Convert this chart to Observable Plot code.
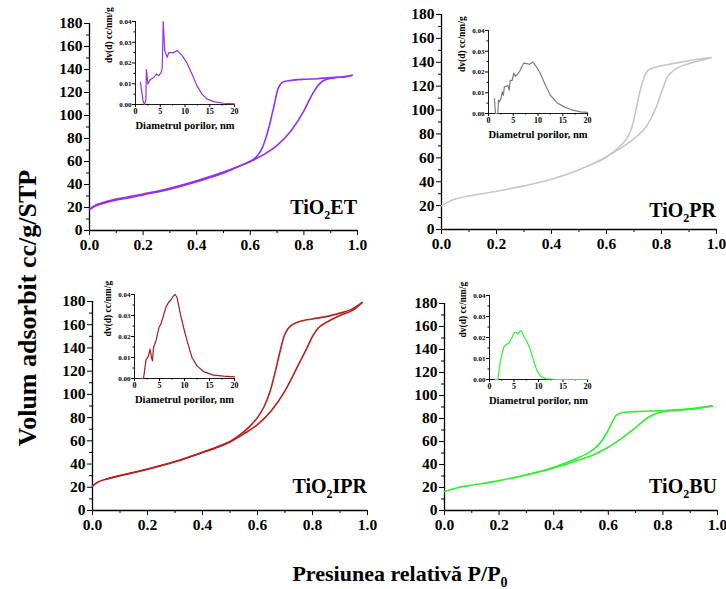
<!DOCTYPE html>
<html>
<head>
<meta charset="utf-8">
<script src="https://cdn.jsdelivr.net/npm/d3@7"></script>
<script src="https://cdn.jsdelivr.net/npm/@observablehq/plot@0.6"></script>
<style>
  body { margin: 0; background: #fff; }
  #page { position: relative; width: 726px; height: 589px; overflow: hidden;
          font-family: "Liberation Serif", "Times New Roman", serif; font-weight: bold; color: #000; }
  #page svg { position: absolute; overflow: visible; }
  .ytitle { position: absolute; left: 28px; top: 308px; transform: translate(-50%, -50%) rotate(-90deg);
            white-space: nowrap; font-size: 26px; }
  .xtitle { position: absolute; left: 400px; top: 576px; transform: translate(-50%, -50%);
            white-space: nowrap; font-size: 22px; }
  .xtitle sub { font-size: 14px; }
</style>
</head>
<body>
<div id="page">
  <div class="ytitle">Volum adsorbit cc/g/STP</div>
  <div class="xtitle">Presiunea relativă P/P<sub>0</sub></div>
</div>
<script>
// Nitrogen isotherms: [P/P0, adsorbed volume cc/g STP]
const etAdsorption = [[0,18],[0.02,21],[0.05,23.5],[0.1,26.5],[0.15,28.5],[0.2,31],[0.3,36],[0.4,42.5],[0.5,50],[0.55,55],[0.6,60],[0.65,66],[0.7,74],[0.75,86],[0.8,104],[0.83,118],[0.86,128],[0.88,131],[0.92,133],[0.96,134],[0.98,135]];
const etDesorption = [[0.98,135],[0.95,133.5],[0.9,133],[0.85,132],[0.8,131.5],[0.75,130.5],[0.72,129],[0.705,124],[0.69,110],[0.675,95],[0.66,82],[0.645,72],[0.63,66],[0.61,61.5],[0.58,58],[0.5,50.8],[0.4,43.3],[0.3,36.8],[0.2,31.8],[0.1,27.3],[0.05,24.3],[0.02,21.8],[0,18.3]];

const prAdsorption = [[0,20],[0.02,22.5],[0.05,25.5],[0.1,28],[0.2,32],[0.3,36.5],[0.4,42],[0.5,50],[0.55,55],[0.6,61],[0.65,68],[0.7,76],[0.75,88],[0.78,102],[0.8,115],[0.82,127],[0.85,134],[0.9,139],[0.95,142],[0.98,144]];
const prDesorption = [[0.98,144],[0.93,142.5],[0.88,140.5],[0.82,138],[0.78,136],[0.75,133],[0.735,126],[0.72,114],[0.705,98],[0.69,84],[0.67,75],[0.64,68],[0.61,62.3],[0.58,58],[0.55,55]];

const iprAdsorption = [[0,21],[0.02,24.5],[0.05,27],[0.1,30],[0.2,35.5],[0.3,42],[0.4,50],[0.5,59],[0.55,66],[0.6,74],[0.65,86],[0.7,103],[0.75,126],[0.78,140],[0.8,150],[0.82,157],[0.85,162],[0.9,168],[0.95,173],[0.98,179]];
const iprDesorption = [[0.98,179],[0.94,173],[0.9,170],[0.85,167],[0.8,165],[0.75,162.5],[0.72,159],[0.7,152],[0.685,140],[0.665,120],[0.645,102],[0.625,90],[0.6,80],[0.57,72],[0.54,66],[0.5,59.5],[0.45,54.5],[0.4,50.2],[0.3,42.2],[0.2,35.7],[0.1,30.2],[0.05,27.2]];

const buAdsorption = [[0,16.5],[0.02,18],[0.05,20],[0.1,22],[0.2,26],[0.3,31],[0.4,37],[0.45,40.5],[0.5,44.5],[0.55,49],[0.6,55],[0.65,63],[0.7,72],[0.74,80],[0.77,84],[0.8,86],[0.85,87],[0.9,88],[0.95,89.5],[0.98,91]];
const buDesorption = [[0.98,91],[0.9,88.5],[0.8,87],[0.7,86],[0.65,85],[0.63,83],[0.615,77],[0.6,70],[0.58,62],[0.56,56],[0.53,50.5],[0.5,47],[0.45,42],[0.4,37.5],[0.35,34],[0.3,31.2]];

// Pore size distributions: [diameter nm, dv(d) cc/nm/g]
const etPores = [[1.0,0.0107],[1.5,0.002],[1.8,0],[2.1,0.002],[2.2,0.0168],[2.5,0.0099],[3.0,0.012],[3.7,0.013],[4.2,0.0147],[4.7,0.0139],[5.2,0.0155],[5.4,0.018],[5.6,0.04],[5.9,0.026],[6.4,0.0227],[6.7,0.025],[7.7,0.025],[8.4,0.026],[9.4,0.0237],[10.4,0.02],[11.4,0.0147],[12.4,0.0091],[13.4,0.0051],[14.4,0.0027],[15.8,0.0014],[17.8,0.0006],[20,0.0003]];
const prPores = [[1.2,0.0072],[1.4,0],[1.9,0],[2.0,0.0064],[2.2,0.0056],[2.5,0.0072],[2.8,0.0104],[3.0,0.0088],[3.2,0.0128],[3.6,0.0131],[3.9,0.0136],[4.2,0.0112],[4.4,0.016],[4.8,0.016],[5.1,0.0195],[5.4,0.0179],[5.9,0.0189],[6.4,0.0208],[7.1,0.0243],[7.8,0.024],[8.3,0.0237],[9.0,0.0248],[9.7,0.0224],[10.5,0.0192],[11.5,0.0136],[12.5,0.0088],[13.9,0.0051],[15.3,0.0032],[16.6,0.0019],[18.6,0.0008],[20,0.0005]];
const iprPores = [[1.1,0],[1.8,0],[2.1,0.0053],[2.3,0.0089],[2.8,0.0108],[3.1,0.014],[3.4,0.01],[3.6,0.0084],[3.8,0.0148],[4.3,0.018],[4.9,0.0244],[5.3,0.026],[5.8,0.03],[6.3,0.034],[6.8,0.0362],[7.3,0.0375],[7.7,0.039],[8.1,0.04],[8.5,0.0387],[9.1,0.0315],[9.8,0.0244],[10.5,0.018],[11.5,0.01],[12.5,0.006],[13.8,0.0033],[15.8,0.0016],[17.8,0.0011],[20,0.0008]];
const buPores = [[1.2,0],[1.7,0],[2.0,0.0057],[2.3,0.0097],[2.9,0.0153],[3.4,0.0166],[3.9,0.0172],[4.6,0.02],[5.0,0.0222],[5.4,0.0225],[5.8,0.0217],[6.3,0.0233],[6.6,0.0228],[7.1,0.0201],[7.6,0.0182],[8.3,0.0145],[9.0,0.0089],[9.7,0.0041],[10.5,0.0014],[11.7,0.0003],[13.7,0],[20,0]];

// Axis ticks
const pTicks = [0, 0.2, 0.4, 0.6, 0.8, 1.0];
const pMinor = [0.1, 0.3, 0.5, 0.7, 0.9];
const vTicks = [0, 20, 40, 60, 80, 100, 120, 140, 160, 180];
const vMinor = [10, 30, 50, 70, 90, 110, 130, 150, 170];
const dTicks = [0, 5, 10, 15, 20];
const dMinor = [2.5, 7.5, 12.5, 17.5];
const dvTicks = [0, 0.01, 0.02, 0.03, 0.04];
const dvMinor = [0.005, 0.015, 0.025, 0.035];

const page = document.getElementById("page");
const FONT = "Liberation Serif";

function place(svg, left, top) {
  svg.style.left = left + "px";
  svg.style.top = top + "px";
  page.appendChild(svg);
}

function isotherm({x0, x1, yTop, yBot, ads, des, color, sample, labelY}) {
  const mL = 52, mR = 16, mT = 12, mB = 34;
  const plot = Plot.plot({
    width: (x1 - x0) + mL + mR,
    height: (yBot - yTop) + mT + mB,
    marginLeft: mL, marginRight: mR, marginTop: mT, marginBottom: mB,
    x: {domain: [0, 1]},
    y: {domain: [0, 180]},
    style: {fontFamily: FONT, fontWeight: "bold", background: "transparent", color: "#000", overflow: "visible"},
    marks: [
      Plot.axisY({ticks: vTicks, tickSize: 5, tickPadding: 2, fontSize: 15.5, fontWeight: "bold", label: null}),
      Plot.axisY({ticks: vMinor, tickSize: 3, tickFormat: () => "", label: null}),
      Plot.axisX({ticks: pTicks, tickSize: 5, tickPadding: 3, fontSize: 15.5, fontWeight: "bold", tickFormat: d => d.toFixed(1), label: null}),
      Plot.axisX({ticks: pMinor, tickSize: 3, tickFormat: () => "", label: null}),
      Plot.ruleX([0], {strokeWidth: 1.3}),
      Plot.ruleY([0], {strokeWidth: 1.3}),
      Plot.line(ads, {x: d => d[0], y: d => d[1], stroke: color, strokeWidth: 1.6, curve: "monotone-x"}),
      Plot.line(des, {x: d => d[0], y: d => d[1], stroke: color, strokeWidth: 1.6, curve: "catmull-rom"})
    ]
  });
  // Sample name with subscripted oxide formula
  const x = plot.scale("x"), y = plot.scale("y");
  const t = d3.select(plot).append("text")
    .attr("x", x.apply(1.0)).attr("y", y.apply(labelY))
    .attr("text-anchor", "end")
    .attr("font-family", FONT).attr("font-weight", "bold").attr("font-size", 20);
  t.append("tspan").text("TiO");
  t.append("tspan").attr("font-size", 12).attr("dy", 5).text("2");
  t.append("tspan").attr("dy", -5).text(sample);
  place(plot, x0 - mL, yTop - mT);
}

function poreInset({x0, x1, yTop, yBot, pores, color}) {
  const mL = 36, mR = 8, mT = 6, mB = 30;
  const plot = Plot.plot({
    width: (x1 - x0) + mL + mR,
    height: (yBot - yTop) + mT + mB,
    marginLeft: mL, marginRight: mR, marginTop: mT, marginBottom: mB,
    x: {domain: [0, 20]},
    y: {domain: [0, 0.04]},
    style: {fontFamily: FONT, fontWeight: "bold", background: "transparent", color: "#000", overflow: "visible"},
    marks: [
      Plot.axisY({ticks: dvTicks, tickSize: 3, tickPadding: 1, fontSize: 7, fontWeight: "bold", tickFormat: d => d.toFixed(2), label: null}),
      Plot.axisY({ticks: dvMinor, tickSize: 1.5, tickFormat: () => "", label: null}),
      Plot.axisX({ticks: dTicks, tickSize: 3, tickPadding: 1, fontSize: 8, fontWeight: "bold", label: null}),
      Plot.axisX({ticks: dMinor, tickSize: 1.5, tickFormat: () => "", label: null}),
      Plot.ruleX([0], {strokeWidth: 0.9}),
      Plot.ruleY([0], {strokeWidth: 0.9}),
      Plot.text(["Diametrul porilor, nm"], {frameAnchor: "bottom", dy: 24, fontSize: 10.5, fontWeight: "bold"}),
      Plot.text(["dv(d) cc/nm/g"], {frameAnchor: "left", dx: -27, rotate: -90, fontSize: 9.5, fontWeight: "bold"}),
      Plot.line(pores, {x: d => d[0], y: d => d[1], stroke: color, strokeWidth: 1.2})
    ]
  });
  place(plot, x0 - mL, yTop - mT);
}

isotherm({x0: 89, x1: 357, yTop: 23, yBot: 230, ads: etAdsorption, des: etDesorption, color: "#9230ee", sample: "ET", labelY: 14});
isotherm({x0: 441, x1: 716, yTop: 14, yBot: 229, ads: prAdsorption, des: prDesorption, color: "#c6c6c6", sample: "PR", labelY: 10});
isotherm({x0: 92, x1: 367, yTop: 301, yBot: 510, ads: iprAdsorption, des: iprDesorption, color: "#b3201e", sample: "IPR", labelY: 15});
isotherm({x0: 444, x1: 717, yTop: 303, yBot: 510, ads: buAdsorption, des: buDesorption, color: "#30ee30", sample: "BU", labelY: 15});

poreInset({x0: 135, x1: 234, yTop: 21, yBot: 104, pores: etPores, color: "#9230ee"});
poreInset({x0: 488, x1: 587, yTop: 30, yBot: 113, pores: prPores, color: "#7c7c7c"});
poreInset({x0: 134, x1: 234, yTop: 294, yBot: 378, pores: iprPores, color: "#a81c1c"});
poreInset({x0: 489, x1: 587, yTop: 295, yBot: 379, pores: buPores, color: "#30ee30"});
</script>
</body>
</html>
